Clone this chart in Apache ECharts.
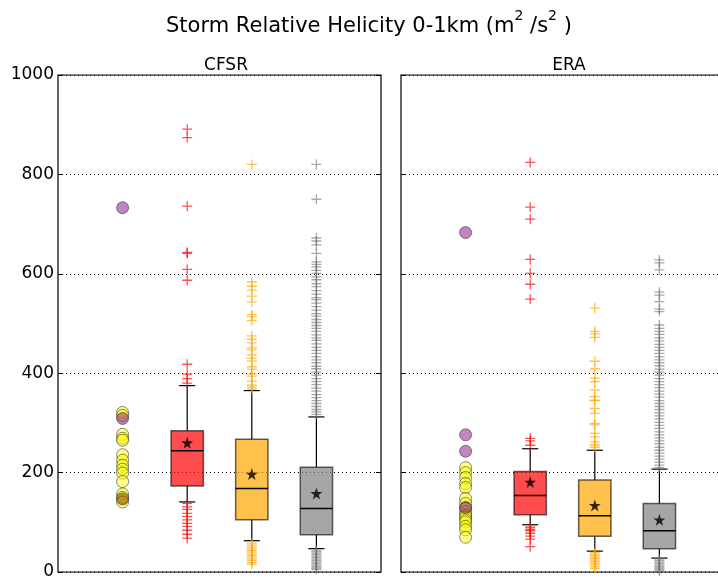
<!DOCTYPE html>
<html>
<head>
<meta charset="utf-8">
<script src="https://cdn.jsdelivr.net/npm/echarts@6/dist/echarts.min.js"></script>
<style>
  html, body { margin: 0; padding: 0; background: #fff; }
  #chart { width: 718px; height: 577px; }
</style>
</head>
<body>
<div id="chart"></div>
<script>
// box stats: [lowWhisker, q1, median, q3, highWhisker], order red / orange / gray
const cfsrBoxes = [[141, 173, 244, 284, 375], [63, 105, 168, 267, 365], [47, 75, 128, 211, 312]]
const cfsrMeans = [260, 197, 158]
const eraBoxes = [[95, 115, 154, 202, 248], [42, 72, 113, 185, 245], [28, 47, 83, 138, 207]]
const eraMeans = [181, 134, 105]
const boxPos = [2, 3, 4]

// circles in column 1
const cfsrYellow = [321, 315, 277, 269, 265, 236, 225, 215, 207, 199, 182, 157, 150, 141]
const cfsrPurple = [733, 309]
const cfsrBrown = [147]
const eraYellow = [210, 200, 190, 178, 170, 148, 138, 128, 121, 115, 111, 105, 101, 92, 85, 70]
const eraPurple = [683, 276, 243, 130]

// outliers
const cfsrRedOut = [891, 874, 736, 643, 641, 609, 587, 418, 398, 389, 380, 138, 131, 126, 118, 112, 105, 98, 92, 84, 76, 68]
const cfsrOrangeOut = [820, 584, 575, 567, 555, 543, 518, 514, 506, 475, 468, 461, 451, 447, 437, 430, 425, 413, 408, 398, 394, 384, 376, 372, 368,
  58, 54, 50, 46, 43, 40, 36, 33, 30, 26, 23, 19, 16]
const cfsrGrayOut = [820, 750, 672, 666, 658, 641, 624, 619, 614, 607, 601, 594, 588, 580, 574, 566, 559, 552, 548, 541, 534, 527, 520, 515,
  508, 502, 496, 490, 484, 477, 471, 466, 459, 452, 446, 440, 433, 427, 421, 414, 409, 402, 396, 389, 383, 377, 370, 364, 357, 351,
  345, 339, 333, 327, 322, 317, 44, 41, 38, 35, 32, 29, 26, 23, 20, 17, 14, 11, 8, 5]
const eraRedOut = [824, 734, 710, 629, 601, 579, 549, 269, 264, 255, 90, 86, 83, 78, 72, 66, 51]
const eraOrangeOut = [531, 484, 479, 472, 424, 409, 390, 383, 366, 353, 346, 345, 329, 319, 299, 296, 279, 272, 262, 256, 251,
  39, 36, 33, 30, 27, 24, 21, 18, 15, 11, 7]
const eraGrayOut = [628, 622, 608, 563, 557, 544, 529, 524, 497, 490, 484, 478, 471, 465, 458, 452, 446, 440, 433, 427, 421, 415,
  408, 402, 396, 389, 383, 377, 371, 364, 358, 352, 345, 339, 333, 327, 320, 314, 308, 301, 295, 289, 282, 276, 270, 264, 258,
  251, 245, 239, 233, 227, 221, 215, 210, 26, 23, 20, 17, 14, 11, 8, 5, 2]

const FONT = "DejaVu Sans"
const boxFills = ["rgba(255,0,0,0.7)", "rgba(255,165,0,0.7)", "rgba(128,128,128,0.7)"]
const outColors = ["rgba(255,0,0,0.85)", "rgba(255,165,0,0.85)", "rgba(110,110,110,0.75)"]
const STAR = "path://M50,0L61.8,35.1L98.9,35.1L68.9,56.7L80.3,91.9L50,70.3L19.7,91.9L31.1,56.7L1.1,35.1L38.2,35.1Z"
const PLUS = "path://M4.35,0H5.65V4.35H10V5.65H5.65V10H4.35V5.65H0V4.35H4.35Z"

const chart = echarts.init(document.getElementById("chart"))

const xAxisFor = (gi) => ({
  type: "value", gridIndex: gi, min: 0, max: 5,
  axisLine: { show: false }, axisTick: { show: false }, axisLabel: { show: false }, splitLine: { show: false },
})
const yAxisFor = (gi, side, labels) => ({
  type: "value", gridIndex: gi, min: 0, max: 1000, interval: 200, position: side,
  axisLine: { show: false },
  axisTick: { show: true, inside: true, length: 5, lineStyle: { color: "#000", width: 1 } },
  axisLabel: { show: labels, color: "#000", fontFamily: FONT, fontSize: 17, margin: 4, formatter: (v) => String(v) },
  splitLine: { show: side === "left", lineStyle: { color: "#000", type: [1, 3], width: 1 } },
})

const boxSeries = (gi, boxes) => ({
  type: "custom", xAxisIndex: gi, yAxisIndex: gi * 2, z: 2,
  data: boxes.map((b, i) => [boxPos[i], ...b]),
  renderItem(params, api) {
    const x = api.value(0)
    const lo = api.coord([x, api.value(1)])[1]
    const q1 = api.coord([x, api.value(2)])[1]
    const md = api.coord([x, api.value(3)])[1]
    const q3 = api.coord([x, api.value(4)])[1]
    const hi = api.coord([x, api.value(5)])[1]
    const cx = api.coord([x, 0])[0]
    const l = api.coord([x - 0.25, 0])[0]
    const r = api.coord([x + 0.25, 0])[0]
    const cl = api.coord([x - 0.125, 0])[0]
    const cr = api.coord([x + 0.125, 0])[0]
    const line = (x1, y1, x2, y2, w) => ({
      type: "line", shape: { x1, y1, x2, y2 }, style: { stroke: "#000", lineWidth: w },
    })
    return {
      type: "group",
      children: [
        line(cx, q3, cx, hi, 1.2),
        line(cx, q1, cx, lo, 1.2),
        line(cl, hi, cr, hi, 1.2),
        line(cl, lo, cr, lo, 1.2),
        {
          type: "rect", shape: { x: l, y: q3, width: r - l, height: q1 - q3 },
          style: { fill: boxFills[params.dataIndex], stroke: "rgba(0,0,0,0.6)", lineWidth: 1.5 },
        },
        line(l, md, r, md, 1.5),
      ],
    }
  },
})

const outSeries = (gi, values, idx) => ({
  type: "scatter", xAxisIndex: gi, yAxisIndex: gi * 2, z: 3,
  symbol: PLUS, symbolSize: 10, silent: true,
  itemStyle: { color: outColors[idx] },
  data: values.map((v) => [boxPos[idx], v]),
})

const circleSeries = (gi, values, color) => ({
  type: "scatter", xAxisIndex: gi, yAxisIndex: gi * 2, z: 3,
  symbol: "circle", symbolSize: 12, silent: true,
  itemStyle: { color, borderColor: "rgba(30,30,30,0.65)", borderWidth: 1 },
  data: values.map((v) => [1, v]),
})

const meanSeries = (gi, means) => ({
  type: "scatter", xAxisIndex: gi, yAxisIndex: gi * 2, z: 5,
  symbol: STAR, symbolSize: 12, silent: true,
  itemStyle: { color: "#000" },
  data: means.map((v, i) => [boxPos[i], v]),
})

const gridBase = {
  top: 75, width: 323, height: 497, show: true, borderColor: "#000", borderWidth: 1.2,
  backgroundColor: "transparent", containLabel: false, outerBoundsMode: "none",
}

chart.setOption({
  animation: false,
  title: [
    {
      text: "{a|Storm Relative Helicity 0-1km (m}{s|2}{a| /s}{s|2}{a| )}",
      left: 161, top: 4,
      textStyle: {
        fontWeight: "normal",
        rich: {
          a: { fontFamily: FONT, fontSize: 21, fontWeight: "normal", color: "#000", lineHeight: 28, verticalAlign: "bottom" },
          s: { fontFamily: FONT, fontSize: 14, fontWeight: "normal", color: "#000", lineHeight: 28, verticalAlign: "top" },
        },
      },
    },
    { text: "CFSR", left: 221, top: 52, textAlign: "center", textStyle: { fontFamily: FONT, fontSize: 17, fontWeight: "normal", color: "#000" } },
    { text: "ERA", left: 564, top: 52, textAlign: "center", textStyle: { fontFamily: FONT, fontSize: 17, fontWeight: "normal", color: "#000" } },
  ],
  grid: [
    Object.assign({ left: 58 }, gridBase),
    Object.assign({ left: 401 }, gridBase),
  ],
  xAxis: [xAxisFor(0), xAxisFor(1)],
  yAxis: [yAxisFor(0, "left", true), yAxisFor(0, "right", false), yAxisFor(1, "left", false), yAxisFor(1, "right", false)],
  series: [
    boxSeries(0, cfsrBoxes),
    boxSeries(1, eraBoxes),
    outSeries(0, cfsrRedOut, 0),
    outSeries(0, cfsrOrangeOut, 1),
    outSeries(0, cfsrGrayOut, 2),
    outSeries(1, eraRedOut, 0),
    outSeries(1, eraOrangeOut, 1),
    outSeries(1, eraGrayOut, 2),
    circleSeries(0, cfsrYellow, "rgba(255,255,0,0.6)"),
    circleSeries(0, cfsrPurple, "rgba(128,0,128,0.6)"),
    circleSeries(0, cfsrBrown, "rgba(139,69,19,0.7)"),
    circleSeries(1, eraYellow, "rgba(255,255,0,0.6)"),
    circleSeries(1, eraPurple, "rgba(128,0,128,0.6)"),
    meanSeries(0, cfsrMeans),
    meanSeries(1, eraMeans),
  ],
})
</script>
</body>
</html>
